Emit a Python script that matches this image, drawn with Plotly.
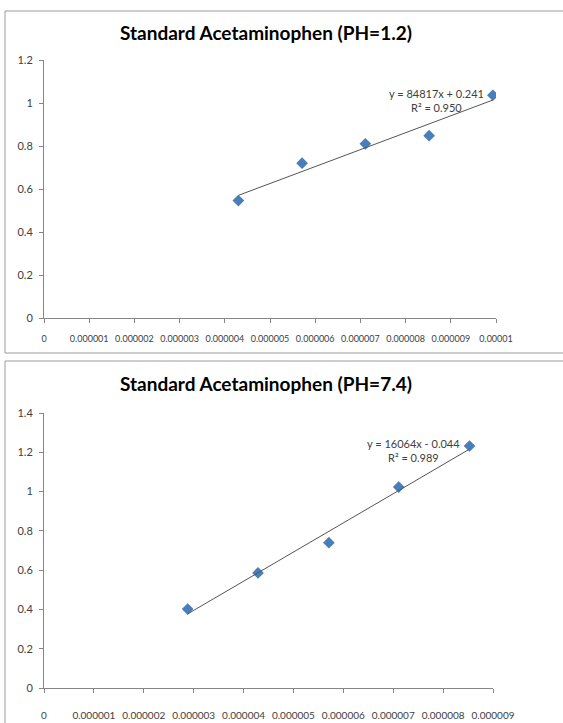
import numpy as np
import plotly.graph_objects as go

W, H = 563, 723

# ---- data ----
titles = ["Standard Acetaminophen (PH=1.2)", "Standard Acetaminophen (PH=7.4)"]
conc_ph12 = [4.30e-6, 5.71e-6, 7.11e-6, 8.52e-6, 9.93e-6]
abs_ph12 = [0.546, 0.720, 0.810, 0.848, 1.036]
conc_ph74 = [2.88e-6, 4.29e-6, 5.71e-6, 7.11e-6, 8.53e-6]
abs_ph74 = [0.402, 0.586, 0.740, 1.023, 1.232]
eq_ph12 = ["y = 84817x + 0.241", "R² = 0.950"]
eq_ph74 = ["y = 16064x - 0.044", "R² = 0.989"]
xticks_ph12 = ["0", "0.000001", "0.000002", "0.000003", "0.000004", "0.000005",
               "0.000006", "0.000007", "0.000008", "0.000009", "0.00001"]
xticks_ph74 = ["0", "0.000001", "0.000002", "0.000003", "0.000004", "0.000005",
               "0.000006", "0.000007", "0.000008", "0.000009"]
yticks_ph12 = ["0", "0.2", "0.4", "0.6", "0.8", "1", "1.2"]
yticks_ph74 = ["0", "0.2", "0.4", "0.6", "0.8", "1", "1.2", "1.4"]


def py(p):
    return 1 - p / H


def px(p):
    return p / W


FONT = "Lato"
AX = "#868686"
TXT = "#404040"
MARK = "#4A7EBB"

fig = go.Figure()


def add_panel(i, xs, ys):
    xa = "x" if i == 0 else "x2"
    ya = "y" if i == 0 else "y2"
    fig.add_trace(go.Scatter(x=xs, y=ys, mode="markers", xaxis=xa, yaxis=ya,
                             marker=dict(symbol="diamond", size=9, color=MARK),
                             showlegend=False))
    k, b = np.polyfit(np.array(xs), np.array(ys), 1)
    lx = [min(xs), max(xs)]
    fig.add_trace(go.Scatter(x=lx, y=[k * v + b for v in lx], mode="lines",
                             xaxis=xa, yaxis=ya, line=dict(color="#555555", width=1),
                             showlegend=False, hoverinfo="skip"))


add_panel(0, conc_ph12, abs_ph12)
add_panel(1, conc_ph74, abs_ph74)


def axis_common():
    return dict(showline=True, linecolor=AX, linewidth=1, ticks="outside",
                ticklen=4, tickcolor=AX, showgrid=False, zeroline=False,
                automargin=False,
                tickfont=dict(family=FONT, color=TXT))


xa1 = axis_common()
xa1.update(domain=[px(44), px(496)], range=[0, 1e-5], anchor="y",
           tickvals=[float(t) for t in xticks_ph12], ticktext=xticks_ph12,
           ticklabelstandoff=8)
xa1["tickfont"]["size"] = 9
ya1 = axis_common()
ya1.update(domain=[py(318), py(60)], range=[0, 1.2], anchor="x",
           tickvals=[float(t) for t in yticks_ph12], ticktext=yticks_ph12,
           ticklabelstandoff=4)
ya1["tickfont"]["size"] = 11

xa2 = axis_common()
xa2.update(domain=[px(44), px(493)], range=[0, 9e-6], anchor="y2",
           tickvals=[float(t) for t in xticks_ph74], ticktext=xticks_ph74,
           ticklabelstandoff=14)
xa2["tickfont"]["size"] = 10
ya2 = axis_common()
ya2.update(domain=[py(688), py(413)], range=[0, 1.4], anchor="x2",
           tickvals=[float(t) for t in yticks_ph74], ticktext=yticks_ph74,
           ticklabelstandoff=4)
ya2["tickfont"]["size"] = 11

annos = []
for t, yc in zip(titles, [33, 383]):
    annos.append(dict(text="<b>" + t + "</b>", xref="paper", yref="paper",
                      x=px(266), y=py(yc), showarrow=False, xanchor="center",
                      yanchor="middle", font=dict(family=FONT, size=19, color="#000000")))
for lines, xc, ys in [(eq_ph12, 436, [94, 107]), (eq_ph74, 413, [443, 457])]:
    for ln, yy in zip(lines, ys):
        annos.append(dict(text=ln, xref="paper", yref="paper", x=px(xc), y=py(yy),
                          showarrow=False, xanchor="center", yanchor="middle",
                          font=dict(family=FONT, size=11, color=TXT)))

FR = dict(color="#9a9a9a", width=1)
shapes = [
    # top chart frame (open on the right)
    dict(type="line", xref="paper", yref="paper", x0=px(5), x1=1, y0=py(11), y1=py(11), line=FR),
    dict(type="line", xref="paper", yref="paper", x0=px(5), x1=1, y0=py(353), y1=py(353), line=FR),
    dict(type="line", xref="paper", yref="paper", x0=px(5), x1=px(5), y0=py(353), y1=py(11), line=FR),
    # bottom chart frame
    dict(type="line", xref="paper", yref="paper", x0=px(5), x1=1, y0=py(361), y1=py(361), line=FR),
    dict(type="line", xref="paper", yref="paper", x0=px(5), x1=px(5), y0=0, y1=py(361), line=FR),
]

fig.update_layout(width=W, height=H, margin=dict(l=0, r=0, t=0, b=0, pad=0),
                  paper_bgcolor="white", plot_bgcolor="white",
                  xaxis=xa1, yaxis=ya1, xaxis2=xa2, yaxis2=ya2,
                  annotations=annos, shapes=shapes, showlegend=False)

fig.write_html("out.html", config={"displayModeBar": False},
               post_script="document.body.style.margin='0';"
                           "document.body.style.overflow='hidden';")
